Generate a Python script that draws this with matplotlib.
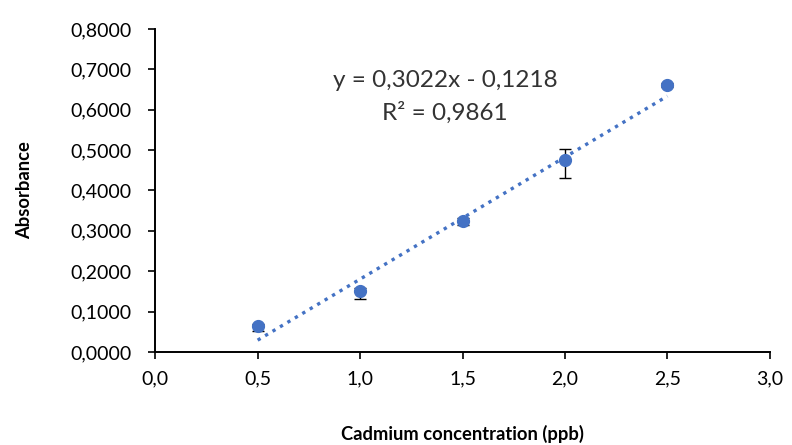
import matplotlib
matplotlib.use('Agg')
import matplotlib.pyplot as plt
import numpy as np
from matplotlib.ticker import FuncFormatter

# calibration data
conc = [0.5, 1.0, 1.5, 2.0, 2.5]
absorb = [0.064, 0.151, 0.324, 0.476, 0.661]
err_low = [0.012, 0.020, 0.010, 0.045, 0.004]
err_high = [0.006, 0.008, 0.008, 0.026, 0.004]
slope, intercept = 0.3022, -0.1218
eq_text = 'y = 0,3022x - 0,1218'
r2_text = 'R² = 0,9861'

plt.rcParams['font.family'] = ['Lato', 'DejaVu Sans']
blue = '#4472C4'

fig = plt.figure(figsize=(7.92, 4.45), dpi=100)
ax = fig.add_axes([0.196, 0.209, 0.776, 0.726])

ax.errorbar(conc, absorb, yerr=[err_low, err_high], fmt='o', color=blue,
            markersize=8.5, ecolor='black', elinewidth=1, capsize=4.5, capthick=1, zorder=3)

xs = np.array([conc[0], conc[-1]])
ax.plot(xs, slope * xs + intercept, linestyle=(0, (1, 1.6)), color=blue, linewidth=2.4, zorder=2)

ax.text(1.415, 0.673, eq_text, ha='center', va='center', fontsize=17.5, color='#333333')
ax.text(1.415, 0.592, r2_text, ha='center', va='center', fontsize=17.5, color='#333333')

ax.set_xlim(0, 3.0)
ax.set_ylim(0, 0.8)
ax.set_xticks(np.arange(0, 3.01, 0.5))
ax.set_yticks(np.arange(0, 0.801, 0.1))
ax.xaxis.set_major_formatter(FuncFormatter(lambda v, p: f'{v:.1f}'.replace('.', ',')))
ax.yaxis.set_major_formatter(FuncFormatter(lambda v, p: f'{v:.4f}'.replace('.', ',')))
ax.tick_params(axis='both', direction='out', length=5, width=1.2, labelsize=14, colors='black')
ax.tick_params(axis='x', pad=8)
ax.tick_params(axis='y', pad=12)
ax.spines['top'].set_visible(False)
ax.spines['right'].set_visible(False)
ax.spines['left'].set_linewidth(1.4)
ax.spines['bottom'].set_linewidth(1.4)

ax.set_xlabel('Cadmium concentration (ppb)', fontsize=13.2, fontweight='bold', labelpad=27)
ax.set_ylabel('Absorbance', fontsize=13.2, fontweight='bold', labelpad=27)

fig.savefig('out.png', dpi=100)
